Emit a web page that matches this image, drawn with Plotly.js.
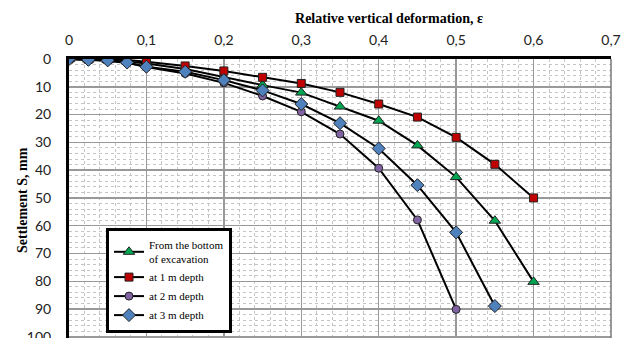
<!DOCTYPE html>
<html>
<head>
<meta charset="utf-8">
<script src="https://cdn.plot.ly/plotly-3.0.1.min.js"></script>
<style>html,body{margin:0;padding:0;background:#fff;}#chart{width:621px;height:338px;}</style>
</head>
<body>
<div id="chart"></div>
<script>
// Relative vertical deformation (x)
const strainBottom = [0, 0.025, 0.05, 0.075, 0.1, 0.15, 0.2, 0.25, 0.3, 0.35, 0.4, 0.45, 0.5, 0.55, 0.6];
const strain1m     = [0, 0.025, 0.05, 0.075, 0.1, 0.15, 0.2, 0.25, 0.3, 0.35, 0.4, 0.45, 0.5, 0.55, 0.6];
const strain2m     = [0, 0.025, 0.05, 0.075, 0.1, 0.15, 0.2, 0.25, 0.3, 0.35, 0.4, 0.45, 0.5];
const strain3m     = [0, 0.025, 0.05, 0.075, 0.1, 0.15, 0.2, 0.25, 0.3, 0.35, 0.4, 0.45, 0.5, 0.55];
// Settlement S, mm
const settleBottom = [0, 0.2, 0.4, 0.9, 1.6, 3.6, 6.6, 9.4, 12.1, 17.1, 22.2, 31.1, 42.5, 58.2, 80.2];
const settle1m     = [0, 0.1, 0.2, 0.4, 1.0, 2.5, 4.3, 6.6, 8.8, 12.0, 16.2, 20.9, 28.2, 37.9, 50.0];
const settle2m     = [0, 0.3, 0.6, 1.4, 2.9, 5.2, 8.6, 13.3, 19.0, 27.0, 39.3, 57.9, 90.1];
const settle3m     = [0, 0.3, 0.5, 1.3, 2.8, 4.6, 7.6, 11.3, 16.2, 23.1, 32.2, 45.4, 62.4, 88.9];
const seriesNames  = ["From the bottom<br>of excavation", "at 1 m depth", "at 2 m depth", "at 3 m depth"];
const xTicks = [0, 0.1, 0.2, 0.3, 0.4, 0.5, 0.6, 0.7];
const yTicks = [0, 10, 20, 30, 40, 50, 60, 70, 80, 90, 100];

const lineStyle = {color: '#000', width: 2};
const outline = {color: '#222', width: 1};
const traces = [
  {x: strainBottom, y: settleBottom, name: seriesNames[0], mode: 'lines+markers', line: lineStyle,
   marker: {symbol: 'triangle-up', size: 10, color: '#00A651', line: outline}},
  {x: strain1m, y: settle1m, name: seriesNames[1], mode: 'lines+markers', line: lineStyle,
   marker: {symbol: 'square', size: 8, color: '#C00000', line: outline}},
  {x: strain2m, y: settle2m, name: seriesNames[2], mode: 'lines+markers', line: lineStyle,
   marker: {symbol: 'circle', size: 8, color: '#8064A2', line: outline}},
  {x: strain3m, y: settle3m, name: seriesNames[3], mode: 'lines+markers', line: lineStyle,
   marker: {symbol: 'diamond', size: 10, color: '#4F81BD', line: outline}}
];

const tickFont = {family: 'Lato, "Open Sans", sans-serif', size: 14, color: '#222'};
const titleFont = {family: '"Liberation Serif", "Times New Roman", serif', size: 14, color: '#000', weight: 'bold'};

const layout = {
  width: 621, height: 338,
  margin: {l: 69, r: 10, t: 59, b: 0, pad: 0, autoexpand: false},
  paper_bgcolor: '#fff', plot_bgcolor: '#fff',
  separators: ', ',
  showlegend: true,
  title: {text: 'Relative vertical deformation, ε', font: titleFont,
          x: 389/621, xanchor: 'center', xref: 'container', y: 1 - 18/338, yanchor: 'middle', yref: 'container',
          automargin: false},
  xaxis: {
    side: 'top', range: [0, 0.7], tickvals: xTicks, ticks: '', tickfont: tickFont,
    ticklabelstandoff: 5, automargin: false,
    showline: true, linecolor: '#000', linewidth: 3,
    showgrid: true, gridcolor: '#999', gridwidth: 1.5, zeroline: false,
    minor: {dtick: 0.02, showgrid: true, gridcolor: '#c4c4c4', griddash: 'dot', gridwidth: 1},
    fixedrange: true
  },
  yaxis: {
    range: [100.4, 0], tickvals: yTicks, ticks: '', tickfont: tickFont,
    ticklabelstandoff: 12, automargin: false, ticklabeloverflow: 'allow',
    showline: true, linecolor: '#000', linewidth: 3,
    showgrid: true, gridcolor: '#999', gridwidth: 1.5, zeroline: false,
    minor: {dtick: 2, showgrid: true, gridcolor: '#c4c4c4', griddash: 'dot', gridwidth: 1},
    fixedrange: true
  },
  shapes: [
    {type: 'line', xref: 'paper', yref: 'paper', x0: 1, x1: 1, y0: 0, y1: 1, line: {color: '#777', width: 1.5}}
  ],
  annotations: [
    {text: 'Settlement S, mm', xref: 'paper', yref: 'paper', x: (22 - 69) / 542, y: (338 - 200) / 279,
     textangle: -90, showarrow: false, font: titleFont, xanchor: 'center', yanchor: 'middle'}
  ],
  legend: {
    x: (106 - 69) / 542, y: (338 - 228) / 279, xanchor: 'left', yanchor: 'top',
    bgcolor: '#fff', bordercolor: '#000', borderwidth: 3,
    font: {family: '"Liberation Serif", "Times New Roman", serif', size: 11, color: '#000'},
    valign: 'middle', tracegroupgap: 0, itemwidth: 30
  }
};

Plotly.newPlot('chart', traces, layout, {staticPlot: true, displayModeBar: false});
</script>
</body>
</html>
